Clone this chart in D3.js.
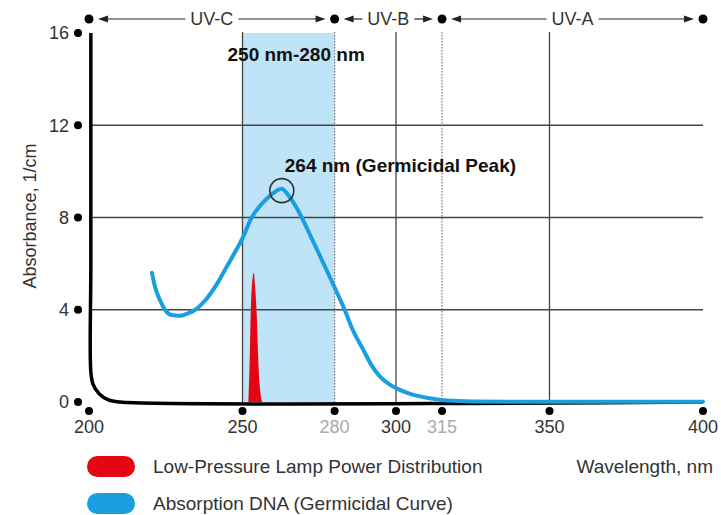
<!DOCTYPE html>
<html>
<head>
<meta charset="utf-8">
<script src="https://cdn.jsdelivr.net/npm/d3@7"></script>
<style>
  body { margin: 0; background: #fff; }
  svg text { font-family: "Liberation Sans", Arial, sans-serif; }
</style>
</head>
<body>
<div id="viz"></div>
<script>
(function () {
  var width = 721, height = 515;

  // axes
  var xTicks = [200, 250, 280, 300, 315, 350, 400];
  var xTicksGrey = [280, 315];
  var yTicks = [0, 4, 8, 12, 16];
  var gridSolid = [250, 300, 350];
  var gridDotted = [280, 315];

  // UV bands along the top
  var bandEdges = [200, 280, 315, 400];
  var bandNames = ['UV-C', 'UV-B', 'UV-A'];

  // absorption DNA (germicidal curve)
  var dnaNm  = [220.5, 221.5, 223.1, 224.8, 226.9, 229.6, 232.4, 234.5, 237.8, 241.6, 245, 248, 250, 253, 256, 259, 262.8, 265, 267.5, 269.3, 272, 275, 278.5, 283.4, 286, 289.4, 292, 294.8, 298, 300.2, 304.6, 311, 316.5, 325, 340, 400];
  var dnaVal = [5.6, 5.0, 4.42, 3.99, 3.77, 3.74, 3.85, 3.99, 4.4, 5.1, 5.9, 6.6, 7.1, 8.0, 8.55, 8.95, 9.25, 8.95, 8.45, 8.0, 7.25, 6.4, 5.4, 3.96, 3.1, 2.25, 1.6, 1.1, 0.75, 0.59, 0.35, 0.16, 0.06, 0.02, 0.01, 0.01];

  // low-pressure lamp power distribution
  var lampNm  = [251.9, 252.3, 252.7, 253.1, 253.7, 254.1, 254.6, 255, 255.4, 255.9, 256.4];
  var lampVal = [0, 1.6, 4.0, 5.1, 5.6, 5.0, 3.9, 2.4, 1.1, 0.35, 0];

  // black baseline curve
  var baseNm  = [200.6, 200.6, 200.6, 201.3, 203.3, 206.3, 210, 400];
  var baseVal = [16, 6, 1.3, 0.78, 0.36, 0.09, 0, 0];

  var peakNm = 262.8, peakVal = 9.25;

  var blue = '#1a9ee2', red = '#e30613', bandFill = '#bfe4f8';

  var x = d3.scaleLinear().domain([200, 400]).range([89, 703]);
  var y = d3.scaleLinear().domain([0, 16]).range([402, 33]);

  var svg = d3.select('#viz').append('svg')
    .attr('width', width)
    .attr('height', height);

  // 250-280 band
  svg.append('rect')
    .attr('x', x(250)).attr('y', y(16))
    .attr('width', x(280) - x(250)).attr('height', y(0) - y(16))
    .attr('fill', bandFill);

  // grid
  svg.selectAll('.hgrid').data(yTicks.filter(function(d){ return d > 0 && d < 16; }))
    .enter().append('line')
    .attr('x1', x(200)).attr('x2', x(400))
    .attr('y1', function(d){ return y(d); }).attr('y2', function(d){ return y(d); })
    .attr('stroke', '#444').attr('stroke-width', 1.3);

  svg.selectAll('.vgrid').data(gridSolid)
    .enter().append('line')
    .attr('x1', function(d){ return x(d); }).attr('x2', function(d){ return x(d); })
    .attr('y1', y(16) - 1).attr('y2', y(0))
    .attr('stroke', '#444').attr('stroke-width', 1.3);

  svg.selectAll('.dgrid').data(gridDotted)
    .enter().append('line')
    .attr('x1', function(d){ return x(d); }).attr('x2', function(d){ return x(d); })
    .attr('y1', y(16) - 1).attr('y2', y(0))
    .attr('stroke', '#777').attr('stroke-width', 1.2)
    .attr('stroke-dasharray', '1.5,1.5');

  // black curve
  var baseLine = d3.line()
    .x(function(d){ return x(d[0]); })
    .y(function(d){ return y(d[1]); })
    .curve(d3.curveCatmullRom.alpha(0.5));
  svg.append('path')
    .datum(d3.zip(baseNm, baseVal))
    .attr('d', baseLine)
    .attr('fill', 'none').attr('stroke', '#000').attr('stroke-width', 3.5);

  // lamp spike
  var lampArea = d3.area()
    .x(function(d){ return x(d[0]); })
    .y0(y(0))
    .y1(function(d){ return y(d[1]); })
    .curve(d3.curveMonotoneX);
  svg.append('path')
    .datum(d3.zip(lampNm, lampVal))
    .attr('d', lampArea)
    .attr('fill', red);

  // DNA curve
  var dnaLine = d3.line()
    .x(function(d){ return x(d[0]); })
    .y(function(d){ return y(d[1]); })
    .curve(d3.curveMonotoneX);
  svg.append('path')
    .datum(d3.zip(dnaNm, dnaVal))
    .attr('d', dnaLine)
    .attr('fill', 'none').attr('stroke', blue).attr('stroke-width', 4)
    .attr('stroke-linecap', 'round');

  // peak marker
  svg.append('circle')
    .attr('cx', x(peakNm)).attr('cy', y(peakVal) + 2).attr('r', 12)
    .attr('fill', 'none').attr('stroke', '#333').attr('stroke-width', 1.6);

  svg.append('text')
    .attr('x', x(250) - 15).attr('y', 61)
    .attr('font-size', 19).attr('font-weight', 'bold').attr('fill', '#111')
    .text('250 nm-280 nm');

  svg.append('text')
    .attr('x', x(peakNm) + 3).attr('y', 172)
    .attr('font-size', 19).attr('font-weight', 'bold').attr('fill', '#111')
    .text('264 nm (Germicidal Peak)');

  // y axis
  svg.selectAll('.ydot').data(yTicks)
    .enter().append('circle')
    .attr('cx', 78).attr('cy', function(d){ return y(d); }).attr('r', 4)
    .attr('fill', '#000');
  svg.selectAll('.ylab').data(yTicks)
    .enter().append('text')
    .attr('x', 69).attr('y', function(d){ return y(d); })
    .attr('dy', '0.36em').attr('text-anchor', 'end')
    .attr('font-size', 18).attr('fill', '#333')
    .text(function(d){ return d; });

  svg.append('text')
    .attr('transform', 'translate(36,' + 216 + ') rotate(-90)')
    .attr('text-anchor', 'middle')
    .attr('font-size', 18).attr('fill', '#333')
    .text('Absorbance, 1/cm');

  // x axis
  svg.selectAll('.xdot').data(xTicks)
    .enter().append('circle')
    .attr('cx', function(d){ return x(d); }).attr('cy', 411).attr('r', 4)
    .attr('fill', '#000');
  svg.selectAll('.xlab').data(xTicks)
    .enter().append('text')
    .attr('x', function(d){ return x(d); }).attr('y', 433)
    .attr('text-anchor', 'middle')
    .attr('font-size', 18)
    .attr('fill', function(d){ return xTicksGrey.indexOf(d) >= 0 ? '#aaa' : '#333'; })
    .text(function(d){ return d; });

  // UV bands
  var topY = 19;
  svg.selectAll('.bdot').data(bandEdges)
    .enter().append('circle')
    .attr('cx', function(d){ return x(d); }).attr('cy', topY).attr('r', 4.5)
    .attr('fill', '#000');

  bandNames.forEach(function(name, i){
    var a = x(bandEdges[i]), b = x(bandEdges[i + 1]);
    var mid = (a + b) / 2;
    var t = svg.append('text')
      .attr('x', mid).attr('y', topY).attr('dy', '0.36em')
      .attr('text-anchor', 'middle')
      .attr('font-size', 18).attr('fill', '#333')
      .text(name);
    var half = t.node().getComputedTextLength() / 2 + 5;
    var tipL = a + 9, tipR = b - 9;
    svg.append('line')
      .attr('x1', tipL + 8).attr('x2', mid - half)
      .attr('y1', topY).attr('y2', topY)
      .attr('stroke', '#222').attr('stroke-width', 1.2);
    svg.append('line')
      .attr('x1', mid + half).attr('x2', tipR - 8)
      .attr('y1', topY).attr('y2', topY)
      .attr('stroke', '#222').attr('stroke-width', 1.2);
    svg.append('path')
      .attr('d', 'M' + tipL + ',' + topY + 'L' + (tipL + 10) + ',' + (topY - 3.5) + 'L' + (tipL + 10) + ',' + (topY + 3.5) + 'Z')
      .attr('fill', '#222');
    svg.append('path')
      .attr('d', 'M' + tipR + ',' + topY + 'L' + (tipR - 10) + ',' + (topY - 3.5) + 'L' + (tipR - 10) + ',' + (topY + 3.5) + 'Z')
      .attr('fill', '#222');
  });

  // legend
  var legendNames = ['Low-Pressure Lamp Power Distribution', 'Absorption DNA (Germicidal Curve)'];
  var legendColors = [red, blue];
  var legend = svg.selectAll('.leg').data(legendNames)
    .enter().append('g')
    .attr('transform', function(d, i){ return 'translate(87,' + (456 + i * 37) + ')'; });
  legend.append('rect')
    .attr('width', 48).attr('height', 21).attr('rx', 10.5)
    .attr('fill', function(d, i){ return legendColors[i]; });
  legend.append('text')
    .attr('x', 66).attr('y', 10.5).attr('dy', '0.36em')
    .attr('font-size', 19).attr('fill', '#333')
    .text(function(d){ return d; });

  svg.append('text')
    .attr('x', 713).attr('y', 466.5).attr('dy', '0.36em')
    .attr('text-anchor', 'end')
    .attr('font-size', 19).attr('fill', '#333')
    .text('Wavelength, nm');
})();
</script>
</body>
</html>
